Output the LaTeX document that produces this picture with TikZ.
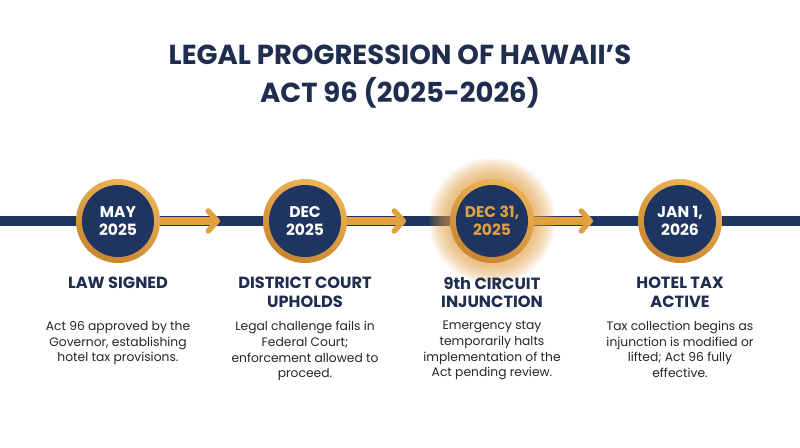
\documentclass[tikz,border=0pt]{standalone}
\usepackage{fontspec}
\setmainfont{Poppins}
\usetikzlibrary{arrows.meta}
\definecolor{navy}{HTML}{1E3461}
\definecolor{titlec}{HTML}{1F2D4F}
\definecolor{gold}{HTML}{E3A03F}
\definecolor{goldl}{HTML}{EDB458}
\definecolor{goldd}{HTML}{C9862F}
\definecolor{ink}{HTML}{262626}
\tikzset{
  ring/.style={circle, minimum size=84pt, inner sep=0pt, top color=goldl, bottom color=goldd, shading angle=-25},
  datec/.style={circle, minimum size=72pt, inner sep=0pt, fill=navy, text=white, align=center,
    font=\bfseries\fontsize{15.5}{18}\selectfont},
  head/.style={anchor=north, inner sep=0pt, text=titlec, align=center,
    font=\bfseries\fontsize{16.2}{18.5}\selectfont},
  body/.style={anchor=north, inner sep=0pt, text=ink, align=center,
    font=\fontsize{12.3}{15.7}\selectfont},
  shaft/.style={draw=gold, line width=7.5pt, -{Straight Barb[length=9pt, width=20pt, line width=5.5pt, round]}},
}
\begin{document}
\begin{tikzpicture}[x=1pt, y=-1pt]
\useasboundingbox[fill=white] (0,0) rectangle (800,447);

\node[anchor=north, inner sep=0pt, text=titlec, align=center, font=\bfseries\fontsize{27.5}{38.5}\selectfont] (title) at (400,44.5) {LEGAL PROGRESSION OF HAWAII’S\\ACT 96 (2025-2026)};

\coordinate (L) at (0,221);
\coordinate (R) at (800,221);
\draw[navy, line width=10pt] (L) -- (R);

% glow on third milestone
\coordinate (g3) at (492,221);
\foreach \r in {43,45,...,63} {\fill[gold, opacity=0.085] (g3) circle[radius=\r pt];}

\node[ring] (r1) at (118,221) {};
\node[ring] (r2) at (305,221) {};
\node[ring] (r3) at (492,221) {};
\node[ring] (r4) at (680,221) {};

\coordinate (t1) at (220,221);
\coordinate (t2) at (406,221);
\coordinate (t3) at (593,221);
\draw[shaft] (r1.east) -- (t1);
\draw[shaft] (r2.east) -- (t2);
\draw[shaft] (r3.east) -- (t3);

\node[datec] (c1) at (r1) {MAY\\2025};
\node[datec] (c2) at (r2) {DEC\\2025};
\node[datec, text=gold] (c3) at (r3) {DEC 31,\\2025};
\node[datec] (c4) at (r4) {JAN 1,\\2026};

\node[head] (h1) at (118,277) {LAW SIGNED};
\node[head] (h2) at (305,277) {DISTRICT COURT\\UPHOLDS};
\node[head] (h3) at (492,277) {9th CIRCUIT\\INJUNCTION};
\node[head] (h4) at (680,277) {HOTEL TAX\\ACTIVE};

\node[body] (b1) at (118,321) {Act 96 approved by the\\Governor, establishing\\hotel tax provisions.};
\node[body] (b2) at (305,321) {Legal challenge fails in\\Federal Court;\\enforcement allowed to\\proceed.};
\node[body] (b3) at (492,321) {Emergency stay\\temporarily halts\\implementation of the\\Act pending review.};
\node[body] (b4) at (680,321) {Tax collection begins as\\injunction is modified or\\lifted; Act 96 fully\\effective.};
\end{tikzpicture}
\end{document}
